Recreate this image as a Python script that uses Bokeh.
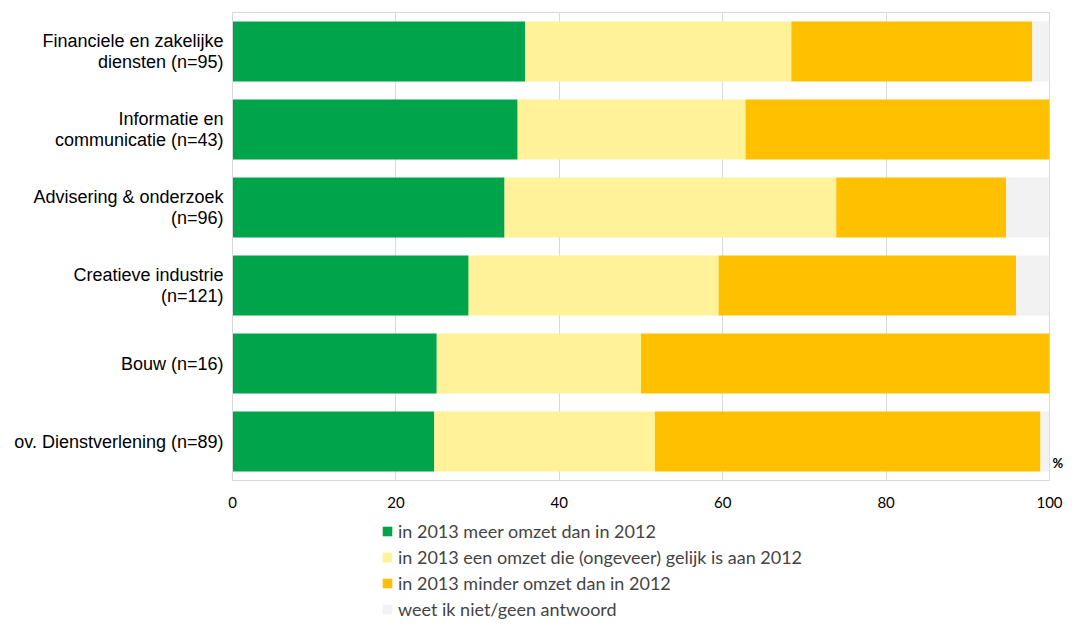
from bokeh.plotting import figure
from bokeh.layouts import column
from bokeh.models import Range1d, FixedTicker, Legend, LegendItem, LinearAxis, ColumnDataSource
from bokeh.embed import file_html
from bokeh.resources import INLINE

categories = [
    "Financiele en zakelijke\ndiensten (n=95)",
    "Informatie en\ncommunicatie (n=43)",
    "Advisering & onderzoek\n(n=96)",
    "Creatieve industrie\n(n=121)",
    "Bouw (n=16)",
    "ov. Dienstverlening (n=89)",
]
meer = [35.8, 34.9, 33.3, 28.9, 25.0, 24.7]
gelijk = [32.6, 27.9, 40.6, 30.6, 25.0, 27.0]
minder = [29.5, 37.2, 20.8, 36.4, 50.0, 47.2]
weet_niet = [2.1, 0.0, 5.2, 4.1, 0.0, 1.1]
series_labels = [
    "in 2013 meer omzet dan in 2012",
    "in 2013 een omzet die (ongeveer) gelijk is aan 2012",
    "in 2013 minder omzet dan in 2012",
    "weet ik niet/geen antwoord",
]
colors = ["#00A44A", "#FFF299", "#FFC000", "#F2F2F2"]
x_ticks = [0, 20, 40, 60, 80, 100]
unit_label = "%"

stackers = ["meer", "gelijk", "minder", "weet_niet"]
ypos = list(range(len(categories)))
source = ColumnDataSource(dict(y=ypos, meer=meer, gelijk=gelijk, minder=minder, weet_niet=weet_niet))

# main chart
p = figure(width=1066, height=516, output_backend="svg", toolbar_location=None,
           x_range=Range1d(0, 100), y_range=Range1d(len(categories) - 0.5, -0.5),
           min_border_left=232, min_border_right=16, min_border_top=12, min_border_bottom=36)

p.hbar_stack(stackers, y="y", height=0.77, color=colors, line_color=None, source=source)

p.xaxis.ticker = FixedTicker(ticks=x_ticks)
p.yaxis.ticker = FixedTicker(ticks=ypos)
p.yaxis.major_label_overrides = {i: c for i, c in enumerate(categories)}

# unit marker "%" at the lower right, next to the frame
unit_pos = 5.28
unit_axis = LinearAxis(ticker=FixedTicker(ticks=[unit_pos]),
                       major_label_overrides={unit_pos: unit_label})
p.add_layout(unit_axis, "right")

for ax in (p.xaxis[0], p.yaxis[0], unit_axis):
    ax.axis_line_color = "#D9D9D9"
    ax.major_tick_line_color = None
    ax.minor_tick_line_color = None
    ax.major_tick_out = 0
    ax.major_tick_in = 0

unit_axis.axis_line_color = None
unit_axis.major_label_text_font = "Lato"
unit_axis.major_label_text_font_size = "13px"
unit_axis.major_label_text_font_style = "bold"
unit_axis.major_label_text_color = "#000000"
unit_axis.major_label_standoff = 3

p.yaxis[0].major_label_text_font = "Liberation Sans"
p.yaxis[0].major_label_text_font_size = "18px"
p.yaxis[0].major_label_text_line_height = 1.07
p.yaxis[0].major_label_text_color = "#000000"
p.yaxis[0].major_label_standoff = 9

p.xaxis.major_label_text_font = "Lato"
p.xaxis.major_label_text_font_size = "15px"
p.xaxis.major_label_text_color = "#000000"
p.xaxis.major_label_standoff = 16

p.ygrid.grid_line_color = None
p.xgrid.grid_line_color = "#D9D9D9"
p.outline_line_color = "#D9D9D9"

# legend strip (series placed far outside its visible ranges, only the legend shows)
p2 = figure(width=1066, height=104, output_backend="svg", toolbar_location=None,
            x_range=Range1d(1000, 1100), y_range=Range1d(1000, 1100),
            x_axis_type=None, y_axis_type=None,
            min_border_left=0, min_border_right=0, min_border_top=0, min_border_bottom=0)
p2.grid.grid_line_color = None
p2.outline_line_color = None
leg_renderers = p2.hbar_stack(stackers, y="y", height=0.77, color=colors, line_color=None, source=source)

legend = Legend(items=[LegendItem(label=l, renderers=[r]) for l, r in zip(series_labels, leg_renderers)],
                orientation="vertical", location=(149, 0), border_line_color=None,
                background_fill_alpha=0, padding=0, margin=0, spacing=4,
                glyph_width=12, glyph_height=12, label_height=20,
                label_text_font="Lato", label_text_font_size="18px", label_standoff=5)
p2.add_layout(legend)

layout = column(p, p2, spacing=0)
open("out.html", "w").write(file_html(layout, INLINE))
